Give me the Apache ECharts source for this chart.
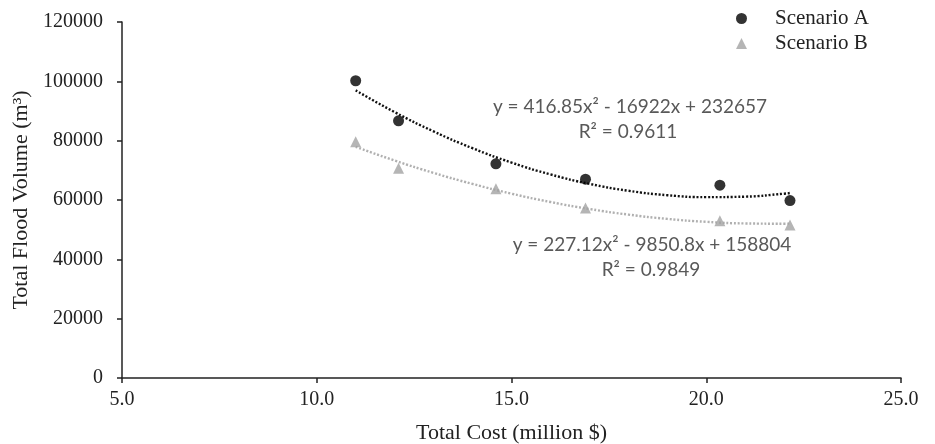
<!DOCTYPE html>
<html>
<head>
<meta charset="utf-8">
<script src="https://cdn.jsdelivr.net/npm/echarts@6/dist/echarts.min.js"></script>
<style>html,body{margin:0;padding:0;background:#fff}#c{width:935px;height:444px}</style>
</head>
<body>
<div id="c"></div>
<script>
// Observed points
const costA = [11.0, 12.1, 14.6, 16.9, 20.35, 22.15];
const volA = [100200, 86700, 72200, 67000, 65000, 59800];
const costB = [11.0, 12.1, 14.6, 16.9, 20.35, 22.15];
const volB = [79600, 70700, 63800, 57300, 53000, 51600];
// Trend curves
const trendX = [11, 12, 13, 14, 15, 16, 17, 18, 19, 20, 21, 22, 22.15];
const trendA = [96950, 89620, 83120, 77450, 72620, 68620, 65450, 63120, 61620, 60960, 61130, 62130, 62350];
const trendB = [77930, 73300, 69130, 65410, 62140, 59330, 56980, 55080, 53630, 52640, 52100, 52010, 52040];
const xTicks = [5, 10, 15, 20, 25];
const yTicks = [0, 20000, 40000, 60000, 80000, 100000, 120000];
const eqA = ['y = 416.85x² - 16922x + 232657', 'R² = 0.9611'];
const eqB = ['y = 227.12x² - 9850.8x + 158804', 'R² = 0.9849'];

const zip = (xs, ys) => xs.map((x, i) => [x, ys[i]]);
const serif = 'Liberation Serif';
const chart = echarts.init(document.getElementById('c'), null, {renderer: 'canvas'});
const eqFont = {fontFamily: 'Lato', fontSize: 19, fill: '#595959'};
chart.setOption({
  animation: false,
  backgroundColor: '#fff',
  grid: {left: 122, right: 34, top: 22, bottom: 66, containLabel: false, outerBoundsMode: 'none'},
  legend: {
    data: ['Scenario A', 'Scenario B'],
    orient: 'vertical', left: 731, top: 3, itemGap: 4,
    itemWidth: 11, itemHeight: 11,
    textStyle: {fontFamily: serif, fontSize: 21, color: '#222', padding: [0, 0, 0, 23]}
  },
  xAxis: {
    type: 'value', min: xTicks[0], max: xTicks[xTicks.length - 1], interval: 5,
    name: 'Total Cost (million $)', nameLocation: 'middle', nameGap: 44,
    nameTextStyle: {fontFamily: serif, fontSize: 22, color: '#222'},
    axisLine: {lineStyle: {color: '#222', width: 1.5}},
    axisTick: {show: true, length: 5, lineStyle: {color: '#222', width: 1.5}},
    axisLabel: {fontFamily: serif, fontSize: 20, color: '#222', margin: 12, formatter: v => v.toFixed(1)},
    splitLine: {show: false}
  },
  yAxis: {
    type: 'value', min: yTicks[0], max: yTicks[yTicks.length - 1], interval: 20000,
    name: 'Total Flood Volume (m³)', nameLocation: 'middle', nameGap: 89,
    nameTextStyle: {fontFamily: serif, fontSize: 22, color: '#222'},
    axisLine: {show: true, lineStyle: {color: '#222', width: 1.5}},
    axisTick: {show: true, length: 5, lineStyle: {color: '#222', width: 1.5}},
    axisLabel: {fontFamily: serif, fontSize: 20, color: '#222', margin: 19, formatter: v => String(v)},
    splitLine: {show: false}
  },
  graphic: [
    {type: 'text', x: 630, y: 107, style: Object.assign({text: eqA[0], textAlign: 'center', textVerticalAlign: 'middle'}, eqFont)},
    {type: 'text', x: 628, y: 132, style: Object.assign({text: eqA[1], textAlign: 'center', textVerticalAlign: 'middle'}, eqFont)},
    {type: 'text', x: 652, y: 245, style: Object.assign({text: eqB[0], textAlign: 'center', textVerticalAlign: 'middle'}, eqFont)},
    {type: 'text', x: 651, y: 270, style: Object.assign({text: eqB[1], textAlign: 'center', textVerticalAlign: 'middle'}, eqFont)}
  ],
  series: [
    {name: 'Trend A', type: 'line', smooth: true, showSymbol: false, data: zip(trendX, trendA), z: 3,
     lineStyle: {color: '#111', width: 2.4, type: [2, 1.8]}},
    {name: 'Trend B', type: 'line', smooth: true, showSymbol: false, data: zip(trendX, trendB), z: 3,
     lineStyle: {color: '#b0b0b0', width: 2.4, type: [2, 1.8]}},
    {name: 'Scenario A', type: 'scatter', symbol: 'circle', symbolSize: 11, data: zip(costA, volA), z: 4,
     itemStyle: {color: '#000'}},
    {name: 'Scenario B', type: 'scatter', symbol: 'triangle', symbolSize: 11, data: zip(costB, volB), z: 4,
     itemStyle: {color: '#a3a3a3'}}
  ]
});
</script>
</body>
</html>
